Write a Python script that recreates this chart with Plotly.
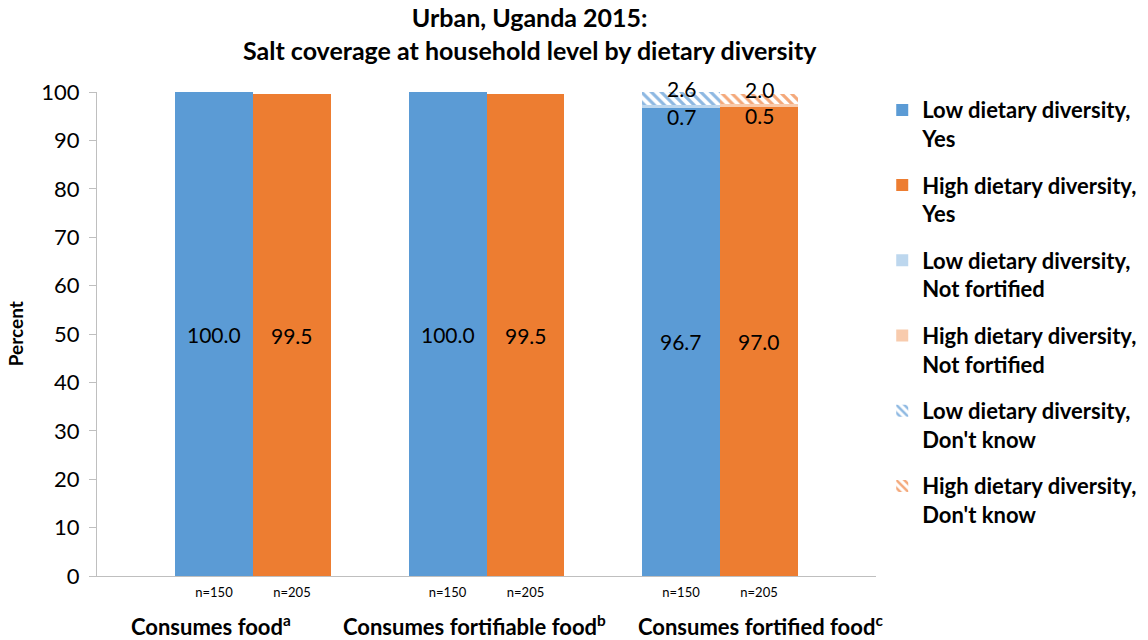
import plotly.graph_objects as go

# Data
groups = ["Consumes food<sup>a</sup>", "Consumes fortifiable food<sup>b</sup>", "Consumes fortified food<sup>c</sup>"]
n_low = ["n=150", "n=150", "n=150"]
n_high = ["n=205", "n=205", "n=205"]
low_yes = [100.0, 100.0, 96.7]
high_yes = [99.5, 99.5, 97.0]
low_not_fortified = [None, None, 0.7]
high_not_fortified = [None, None, 0.5]
low_dont_know = [None, None, 2.6]
high_dont_know = [None, None, 2.0]

BLUE = "#5B9BD5"
ORANGE = "#ED7D31"
LIGHT_BLUE = "#BDD7EE"
LIGHT_ORANGE = "#F8CBAD"
FONT = "Lato"

half = 0.167
width = 0.334
xs_low = [i - half for i in range(len(groups))]
xs_high = [i + half for i in range(len(groups))]

fig = go.Figure()

def add(name, xs, ys, color, pattern=None, group=None):
    marker = dict(color=color, line=dict(width=0))
    if pattern:
        marker = dict(color="white", line=dict(width=0),
                      pattern=dict(shape="\\", fgcolor=pattern, bgcolor="white",
                                   size=7, solidity=0.45, fillmode="replace"))
    fig.add_trace(go.Bar(name=f"<b>{name}</b>", x=xs, y=ys, width=width, marker=marker,
                         legendgroup=group, hoverinfo="skip"))

add("Low dietary diversity,<br>Yes", xs_low, low_yes, BLUE, group="a")
add("High dietary diversity,<br>Yes", xs_high, high_yes, ORANGE, group="b")
add("Low dietary diversity,<br>Not fortified", xs_low, low_not_fortified, LIGHT_BLUE, group="c")
add("High dietary diversity,<br>Not fortified", xs_high, high_not_fortified, LIGHT_ORANGE, group="d")
add("Low dietary diversity,<br>Don't know", xs_low, low_dont_know, None, pattern="#8DB8E2", group="e")
add("High dietary diversity,<br>Don't know", xs_high, high_dont_know, None, pattern="#F4A87A", group="f")

annotations = []
label_font = dict(family=FONT, size=21, color="black")

# Labels for the main segments
for xs, vals in ((xs_low, low_yes), (xs_high, high_yes)):
    for x, v in zip(xs, vals):
        annotations.append(dict(x=x, y=v / 2, xref="x", yref="y", text=f"{v:.1f}",
                                showarrow=False, font=label_font))

# Labels for the thin top segments
for xs, yes, nf, dk in ((xs_low, low_yes, low_not_fortified, low_dont_know),
                        (xs_high, high_yes, high_not_fortified, high_dont_know)):
    for x, y0, a, b in zip(xs, yes, nf, dk):
        if a is None:
            continue
        annotations.append(dict(x=x, y=y0 + a / 2, xref="x", yref="y", text=f"{a:.1f}",
                                showarrow=False, font=label_font, yshift=-10))
        annotations.append(dict(x=x, y=y0 + a + b / 2, xref="x", yref="y", text=f"{b:.1f}",
                                showarrow=False, font=label_font, yshift=10))

# Category names below the sample sizes
cat_shift = [-42, -12, 40]
for i, (g, s) in enumerate(zip(groups, cat_shift)):
    annotations.append(dict(x=i, y=0, xref="x", yref="paper", text=f"<b>{g}</b>",
                            showarrow=False, yanchor="middle", yshift=-49, xshift=s,
                            font=dict(family=FONT, size=22, color="black")))

# Y axis title
annotations.append(dict(x=-0.105, y=0.5, xref="paper", yref="paper", text="<b>Percent</b>",
                        textangle=-90, showarrow=False, xanchor="center",
                        font=dict(family=FONT, size=19, color="black")))

# Chart title
annotations.append(dict(x=(530 - 97) / 779, y=1.12, xref="paper", yref="paper", xanchor="center",
                        yanchor="middle", showarrow=False,
                        text="<b>Urban, Uganda 2015:<br>Salt coverage at household level by dietary diversity</b>",
                        font=dict(family=FONT, size=25, color="black")))

tickvals = []
ticktext = []
for i in range(len(groups)):
    tickvals += [xs_low[i], xs_high[i]]
    ticktext += [n_low[i], n_high[i]]

fig.update_layout(
    barmode="stack",
    width=1148, height=640,
    margin=dict(l=97, r=272, t=92, b=64, autoexpand=False),
    plot_bgcolor="white", paper_bgcolor="white",
    xaxis=dict(range=[-0.668, 2.668], tickvals=tickvals, ticktext=ticktext,
               showline=True, linecolor="#BFBFBF", linewidth=1, ticks="",
               ticklabelstandoff=4,
               tickfont=dict(family=FONT, size=13, color="black"), showgrid=False,
               zeroline=False),
    yaxis=dict(range=[0, 100], dtick=10, showline=True, linecolor="#BFBFBF", linewidth=1,
               ticks="outside", ticklen=7, tickcolor="#BFBFBF", showgrid=False, zeroline=False,
               ticklabelstandoff=5,
               tickfont=dict(family=FONT, size=22, color="black")),
    legend=dict(x=1.008, y=1.006, xanchor="left", yanchor="top", valign="top",
                tracegroupgap=15, traceorder="grouped", maxheight=600,
                font=dict(family=FONT, size=22, color="black")),
    annotations=annotations,
    bargap=0,
)

fig.write_html("out.html")
